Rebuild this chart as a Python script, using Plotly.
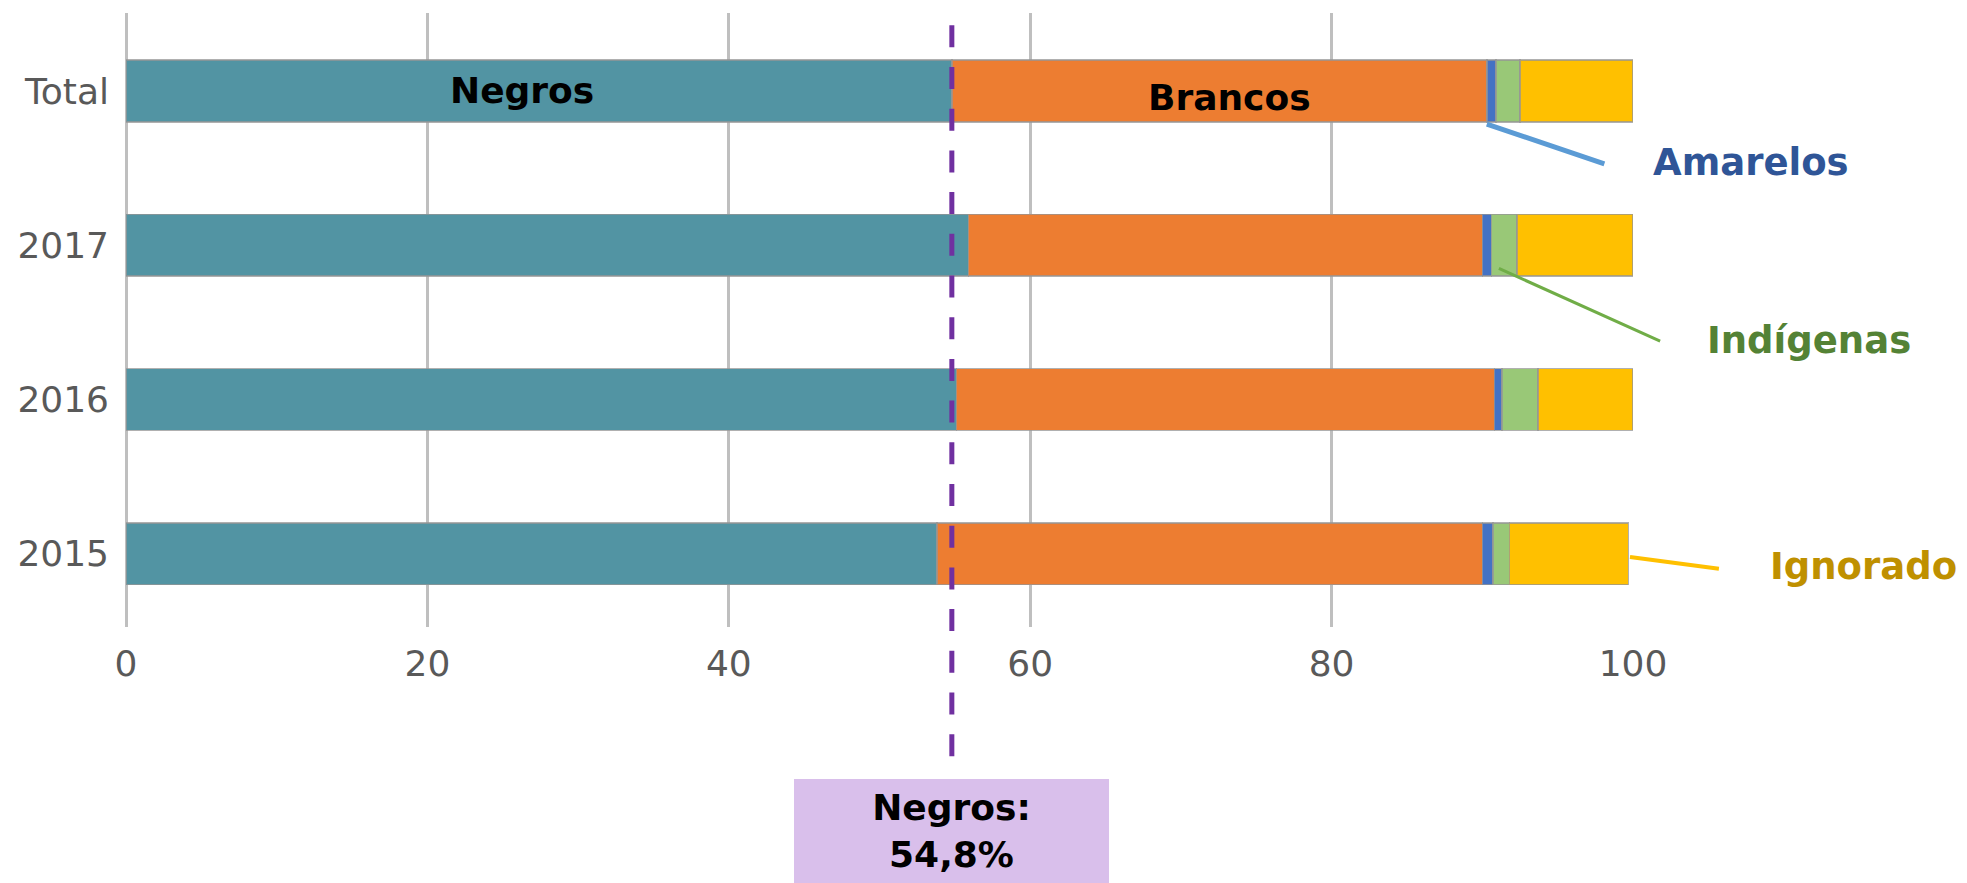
import plotly.graph_objects as go

# Distribuição (%) por raça/cor, por ano e no total
categorias = ["2015", "2016", "2017", "Total"]
negros = [53.8, 55.1, 55.9, 54.8]
brancos = [36.2, 35.7, 34.1, 35.5]
amarelos = [0.7, 0.5, 0.6, 0.6]
indigenas = [1.1, 2.4, 1.7, 1.6]
ignorado = [7.9, 6.3, 7.7, 7.5]

x_ticks = [0, 20, 40, 60, 80, 100]
x_tick_labels = ["0", "20", "40", "60", "80", "100"]

negros_total = 54.8

series = [
    ("Negros", negros, "#5294A3"),
    ("Brancos", brancos, "#ED7D31"),
    ("Amarelos", amarelos, "#4472C4"),
    ("Indígenas", indigenas, "#99C877"),
    ("Ignorado", ignorado, "#FFC000"),
]

BOLD = "DejaVu Sans"
TICK_FONT = dict(family="DejaVu Sans", size=36, color="#595959")

fig = go.Figure()
for nome, valores, cor in series:
    fig.add_trace(go.Bar(
        y=categorias,
        x=valores,
        name=nome,
        orientation="h",
        marker=dict(color=cor, line=dict(color="rgba(150,150,150,0.75)", width=1.5)),
        hoverinfo="skip",
    ))

# acumulados para ancorar as linhas de chamada
def acumulado(*cols):
    return [sum(v) for v in zip(*cols)]

fim_brancos = acumulado(negros, brancos)
fim_amarelos = acumulado(negros, brancos, amarelos)
fim_total = acumulado(negros, brancos, amarelos, indigenas, ignorado)
i_total = categorias.index("Total")
i_2017 = categorias.index("2017")
i_2015 = categorias.index("2015")

annotations = [
    # rótulos dentro da barra Total
    dict(x=26.3, y=i_total, xref="x", yref="y", text="<b>Negros</b>", showarrow=False,
         xanchor="center", font=dict(family=BOLD, size=36, color="black")),
    dict(x=73.2, y=i_total - 0.04, xref="x", yref="y", text="<b>Brancos</b>", showarrow=False,
         xanchor="center", font=dict(family=BOLD, size=36, color="black")),
    # linhas de chamada
    dict(x=fim_brancos[i_total], y=i_total - 0.215, xref="x", yref="y",
         ax=98.2, ay=i_total - 0.475, axref="x", ayref="y", text="",
         showarrow=True, arrowhead=0, arrowwidth=5, arrowcolor="#5B9BD5",
         standoff=0, startstandoff=0),
    dict(x=fim_amarelos[i_2017] + 0.5, y=i_2017 - 0.15, xref="x", yref="y",
         ax=101.9, ay=i_2017 - 0.625, axref="x", ayref="y", text="",
         showarrow=True, arrowhead=0, arrowwidth=3, arrowcolor="#70AD47",
         standoff=0, startstandoff=0),
    dict(x=fim_total[i_2015] + 0.1, y=i_2015 - 0.02, xref="x", yref="y",
         ax=105.8, ay=i_2015 - 0.098, axref="x", ayref="y", text="",
         showarrow=True, arrowhead=0, arrowwidth=4, arrowcolor="#FFC000",
         standoff=0, startstandoff=0),
    # rótulos externos
    dict(x=1.078, y=i_total - 0.463, xref="paper", yref="y", text="<b>Amarelos</b>",
         showarrow=False, xanchor="center",
         font=dict(family=BOLD, size=37, color="#2F5597")),
    dict(x=1.117, y=i_2017 - 0.614, xref="paper", yref="y", text="<b>Indígenas</b>",
         showarrow=False, xanchor="center",
         font=dict(family=BOLD, size=37, color="#548235")),
    dict(x=1.153, y=i_2015 - 0.083, xref="paper", yref="y", text="<b>Ignorado</b>",
         showarrow=False, xanchor="center",
         font=dict(family=BOLD, size=37, color="#BF9000")),
    # caixa de destaque
    dict(x=negros_total, y=-0.332, xref="x", yref="paper",
         text="<b>Negros:</b><br><b>" + f"{negros_total:.1f}".replace(".", ",") + "%</b>",
         showarrow=False, xanchor="center", yanchor="middle",
         width=315, height=104, bgcolor="#D9BFEB", borderpad=0, borderwidth=0,
         font=dict(family=BOLD, size=36, color="black")),
]

fig.add_shape(type="line", xref="x", yref="paper",
              x0=negros_total, x1=negros_total, y0=0.98, y1=-0.2117,
              line=dict(color="#7030A0", width=5, dash="22px,19.7px"))

fig.update_layout(
    width=1967, height=883,
    margin=dict(l=126, r=334, t=13, b=256, pad=0),
    barmode="stack",
    bargap=0.6,
    showlegend=False,
    plot_bgcolor="white",
    paper_bgcolor="white",
    annotations=annotations,
    xaxis=dict(range=[0, 100], tickvals=x_ticks, ticktext=x_tick_labels,
               showgrid=True, gridcolor="#BFBFBF", gridwidth=2.5,
               zeroline=True, zerolinecolor="#BFBFBF", zerolinewidth=2.5,
               showline=False, ticks="", tickfont=TICK_FONT, ticklabelstandoff=12),
    yaxis=dict(categoryorder="array", categoryarray=categorias,
               range=[-0.474, 3.5055], showgrid=False, zeroline=False,
               showline=False, ticks="", tickfont=TICK_FONT, ticklabelstandoff=16),
)

fig.write_html("out.html")
